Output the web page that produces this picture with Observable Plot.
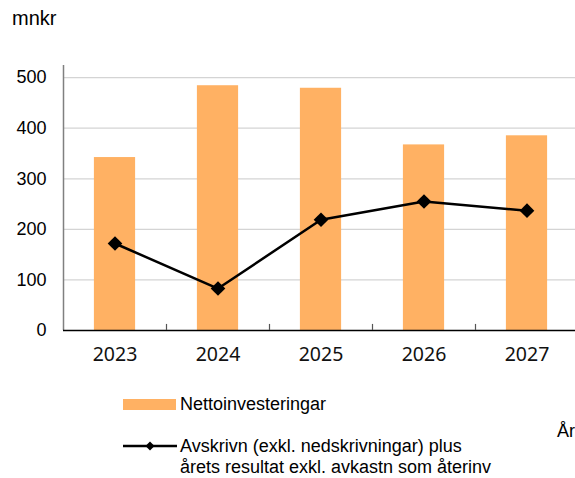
<!DOCTYPE html>
<html><head><meta charset="utf-8">
<script src="https://cdn.jsdelivr.net/npm/d3@7"></script>
<script src="https://cdn.jsdelivr.net/npm/@observablehq/plot@0.6"></script>
<style>
body{margin:0;background:#fff;font-family:"Liberation Sans",Arial,sans-serif;color:#000}
#wrap{position:relative;width:575px;height:478px;overflow:hidden;background:#fff}
#wrap svg.plot{position:absolute;left:0;top:0}
.lbl{position:absolute;white-space:nowrap;font-size:18px;line-height:21px}
</style></head><body><div id="wrap"></div>
<script>
const years = [2023, 2024, 2025, 2026, 2027];
const netInvest = [342, 484, 479, 367, 385];
const avskrivn = [172, 83, 219, 255, 237];
const yTicks = [0, 100, 200, 300, 400, 500];
const unitLabel = "mnkr";
const axisTitle = "År";
const barName = "Nettoinvesteringar";
const lineName = ["Avskrivn (exkl. nedskrivningar) plus", "årets resultat exkl. avkastn som återinv"];

const barColor = "#ffb163";
const rows = years.map((y, i) => ({year: y, bar: netInvest[i], line: avskrivn[i]}));
const boundaries = years.slice(1).map(y => y - 0.5);

const chart = Plot.plot({
  width: 575, height: 380,
  marginLeft: 63, marginRight: 0, marginTop: 65, marginBottom: 50,
  style: {fontFamily: '"Liberation Sans", Arial, sans-serif', background: "transparent", overflow: "visible"},
  x: {domain: [years[0] - 0.5, years[years.length - 1] + 0.5], range: [63, 578]},
  y: {domain: [0, 524]},
  marks: [
    Plot.ruleY(yTicks.filter(d => d > 0), {stroke: "#d4d4d4", strokeWidth: 1.3}),
    Plot.rectY(rows, {x1: d => d.year - 0.2, x2: d => d.year + 0.2, y1: 0, y2: "bar", fill: barColor}),
    Plot.ruleX([years[0] - 0.5], {y1: 0, y2: 524, stroke: "#808080", strokeWidth: 1.5}),
    Plot.ruleY([0], {stroke: "#000", strokeWidth: 1.5}),
    Plot.ruleX(boundaries, {y1: 0, y2: 12, stroke: "#555", strokeWidth: 1.2}),
    Plot.line(rows, {x: "year", y: "line", stroke: "#000", strokeWidth: 2.5}),
    Plot.dot(rows, {x: "year", y: "line", symbol: "diamond2", r: 6.6, fill: "#000", stroke: "none"}),
    Plot.axisY(yTicks, {tickSize: 0, tickPadding: 17, fontSize: 18, label: null}),
    Plot.axisX(years, {tickSize: 0, tickPadding: 17, fontSize: 19.5, fontFamily: '"Noto Sans", "Open Sans", sans-serif', fill: "#111", tickFormat: d => String(d), label: null})
  ]
});
chart.classList.add("plot");
const wrap = document.getElementById("wrap");
wrap.appendChild(chart);

function addLabel(text, left, top, size) {
  const d = document.createElement("div");
  d.className = "lbl";
  d.style.left = left + "px"; d.style.top = top + "px";
  if (size) d.style.fontSize = size + "px";
  d.innerHTML = text;
  wrap.appendChild(d);
  return d;
}
addLabel(unitLabel, 12, 8, 20);
addLabel(axisTitle, 557, 421, 18);

// legend
const ns = "http://www.w3.org/2000/svg";
const leg = document.createElementNS(ns, "svg");
leg.setAttribute("width", 60); leg.setAttribute("height", 60);
leg.style.position = "absolute"; leg.style.left = "120px"; leg.style.top = "395px";
leg.innerHTML = `<rect x="3" y="4" width="53" height="11" fill="${barColor}"/>
<line x1="3" x2="57" y1="51" y2="51" stroke="#000" stroke-width="2.5"/>
<path d="M30,46.5L34.5,51L30,55.5L25.5,51Z" fill="#000"/>`;
wrap.appendChild(leg);
addLabel(barName, 180, 394, 18);
addLabel(lineName.join("<br>"), 180, 436, 18);
</script></body></html>
